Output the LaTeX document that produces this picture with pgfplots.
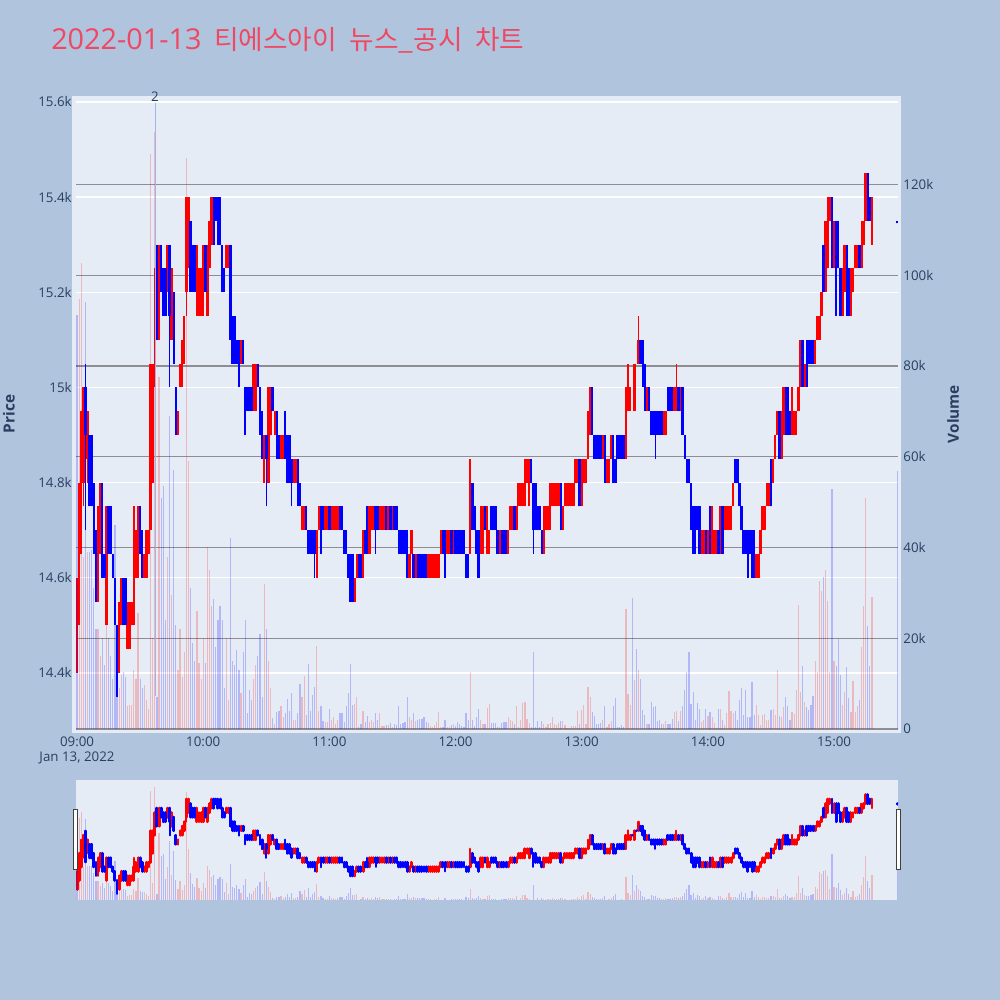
\documentclass[border=0pt]{standalone}
\usepackage{pgfplots}
\usepackage{pgfplotstable}
\usepackage{fontspec}
\pgfplotsset{compat=1.18}
\setmainfont{Open Sans}
\newfontfamily\kr{Noto Sans CJK KR}
\definecolor{pagebg}{RGB}{176,196,222}
\definecolor{panel}{RGB}{229,236,246}
\definecolor{ink}{RGB}{42,63,95}
\definecolor{ttl}{RGB}{239,72,98}
\definecolor{gridg}{RGB}{142,142,146}
\pgfplotstableread{
t o h l c v
0 14400 14600 14400 14600 0
1 14500 14800 14500 14800 94800
2 14650 14950 14650 14900 102800
3 14800 15000 14750 15000 38000
4 15000 15050 14700 14900 94000
5 14850 14950 14800 14950 39000
6 14900 14900 14750 14750 39000
7 14900 14900 14750 14750 39500
8 14800 14800 14650 14650 31000
9 14700 14700 14550 14600 22000
10 14600 14750 14550 14750 22000
11 14650 14800 14650 14800 16000
12 14800 14800 14600 14600 20000
13 14650 14650 14600 14600 14000
14 14500 14750 14500 14750 28000
15 14750 14750 14650 14650 20000
16 14750 14750 14650 14650 16000
17 14650 14650 14600 14600 11000
18 14600 14600 14500 14500 45000
19 14500 14500 14350 14400 15000
20 14400 14550 14400 14550 9000
21 14500 14600 14500 14600 12000
22 14600 14600 14500 14500 12600
23 14600 14600 14500 14500 11500
24 14450 14550 14450 14550 5000
25 14450 14550 14450 14550 5300
26 14500 14550 14500 14550 5300
27 14500 14750 14500 14650 13000
28 14600 14700 14600 14700 11000
29 14600 14750 14600 14750 25600
30 14750 14750 14650 14650 11000
31 14700 14700 14600 14600 9000
32 14600 14650 14600 14650 9700
33 14600 14700 14600 14700 6400
34 14650 14700 14650 14700 4500
35 14700 15050 14700 15050 126700
36 14800 15050 14800 15050 20000
37 15000 15250 15000 15250 131600
38 15300 15300 15100 15100 7000
39 15100 15300 15100 15300 77600
40 15300 15300 15200 15200 51000
41 15250 15250 15150 15150 53600
42 15250 15250 15150 15150 24000
43 15200 15300 15200 15300 38000
44 15300 15300 15000 15150 69000
45 15100 15250 15100 15250 29500
46 15200 15200 15050 15050 57000
47 15000 15000 14900 14900 23000
48 14900 14950 14900 14950 13000
49 15000 15050 15000 15050 22000
50 15000 15100 15000 15100 11500
51 15050 15150 15050 15150 17000
52 15200 15400 15150 15400 125800
53 15300 15400 15250 15400 59000
54 15350 15350 15200 15200 31000
55 15300 15300 15200 15200 19000
56 15300 15300 15200 15200 15000
57 15150 15300 15150 15300 26000
58 15150 15250 15150 15250 14500
59 15150 15250 15150 15250 11000
60 15150 15300 15150 15300 20000
61 15300 15300 15200 15200 14500
62 15150 15300 15150 15300 40000
63 15250 15350 15250 15350 35000
64 15300 15400 15300 15400 27000
65 15400 15400 15300 15300 28600
66 15400 15400 15350 15350 18000
67 15400 15400 15300 15300 24000
68 15400 15400 15300 15300 27000
69 15300 15300 15200 15200 24000
70 15250 15250 15200 15200 9000
71 15250 15300 15250 15300 20000
72 15250 15300 15250 15300 6500
73 15300 15300 15100 15100 42000
74 15150 15150 15050 15050 15000
75 15150 15150 15050 15050 14000
76 15100 15100 15050 15050 17400
77 15100 15100 15000 15000 13000
78 15050 15100 15050 15100 8000
79 15100 15100 15050 15050 17000
80 15000 15000 14900 14950 24000
81 15000 15000 14950 14950 3500
82 15000 15000 14950 14950 8600
83 15000 15000 14950 14950 6500
84 14950 15050 14950 15050 11000
85 14950 15050 14950 15050 14000
86 15050 15050 15000 15000 16000
87 15000 15000 14900 14900 21000
88 14950 14950 14850 14850 7000
89 14800 14900 14800 14900 32000
90 14900 14900 14750 14850 22000
91 14800 15000 14800 15000 15000
92 14900 15000 14900 15000 9000
93 15000 15000 14950 14950 2500
94 14900 14950 14900 14950 1200
95 14950 14950 14850 14850 3800
96 14900 14900 14850 14850 4000
97 14850 14900 14850 14900 5000
98 14850 14900 14850 14900 2700
99 14900 14950 14850 14850 3500
100 14900 14900 14800 14800 6600
101 14900 14900 14800 14800 4000
102 14850 14850 14750 14800 8000
103 14800 14850 14800 14850 2000
104 14800 14850 14800 14850 2000
105 14850 14850 14750 14750 3500
106 14800 14800 14750 14750 10000
107 14700 14750 14700 14750 7000
108 14700 14750 14700 14750 11700
109 14750 14750 14700 14700 3000
110 14700 14700 14650 14650 14300
111 14700 14700 14650 14650 4000
112 14700 14700 14650 14650 7500
113 14700 14700 14600 14650 9300
114 14600 14700 14600 14700 18400
115 14700 14750 14700 14750 4000
116 14750 14750 14650 14650 5000
117 14750 14750 14700 14700 1800
118 14700 14750 14700 14750 1600
119 14700 14750 14700 14750 1600
120 14750 14750 14700 14700 4300
121 14700 14750 14700 14750 2000
122 14700 14750 14700 14750 2700
123 14700 14750 14700 14750 1000
124 14700 14750 14700 14750 2000
125 14750 14750 14700 14700 3600
126 14750 14750 14700 14700 3600
127 14700 14700 14650 14650 1600
128 14700 14700 14650 14650 5000
129 14650 14650 14600 14600 8000
130 14650 14650 14550 14550 14300
131 14650 14650 14550 14550 5300
132 14550 14600 14550 14600 5500
133 14600 14650 14600 14650 7000
134 14650 14650 14600 14600 500
135 14650 14650 14600 14600 1000
136 14600 14700 14600 14700 4000
137 14700 14700 14650 14650 1600
138 14700 14750 14650 14650 2900
139 14650 14750 14650 14750 1600
140 14700 14750 14700 14750 2000
141 14700 14750 14700 14750 1600
142 14750 14750 14650 14700 3500
143 14750 14750 14700 14700 2000
144 14700 14750 14700 14750 3600
145 14700 14750 14700 14750 700
146 14700 14750 14700 14750 700
147 14750 14750 14700 14700 900
148 14700 14750 14700 14750 900
149 14750 14750 14700 14700 1400
150 14700 14750 14700 14750 400
151 14750 14750 14700 14700 1200
152 14750 14750 14700 14700 900
153 14700 14700 14650 14650 5000
154 14700 14700 14650 14650 1000
155 14700 14700 14650 14650 1400
156 14700 14700 14650 14650 1600
157 14700 14700 14600 14600 7000
158 14600 14650 14600 14650 2700
159 14650 14700 14650 14700 2000
160 14650 14650 14600 14600 3600
161 14600 14650 14600 14650 1800
162 14650 14650 14600 14600 2000
163 14650 14650 14600 14600 2100
164 14650 14650 14600 14600 2100
165 14650 14650 14600 14600 2700
166 14650 14650 14600 14600 1600
167 14600 14650 14600 14650 1400
168 14600 14650 14600 14650 700
169 14600 14650 14600 14650 400
170 14600 14650 14600 14650 900
171 14600 14650 14600 14650 1600
172 14600 14650 14600 14650 3800
173 14650 14700 14650 14700 500
174 14700 14700 14650 14650 400
175 14700 14700 14600 14650 2000
176 14650 14700 14650 14700 400
177 14650 14700 14650 14700 500
178 14700 14700 14650 14650 900
179 14650 14700 14650 14700 1200
180 14700 14700 14650 14650 700
181 14700 14700 14650 14650 1600
182 14700 14700 14650 14650 1100
183 14700 14700 14650 14650 700
184 14700 14700 14650 14650 400
185 14650 14650 14600 14600 3500
186 14650 14650 14600 14600 2000
187 14650 14850 14650 14750 12600
188 14800 14800 14700 14700 2000
189 14750 14750 14700 14700 700
190 14700 14700 14650 14650 2700
191 14700 14700 14600 14600 4300
192 14650 14750 14650 14750 2000
193 14650 14750 14650 14750 1100
194 14750 14750 14700 14700 1200
195 14650 14750 14650 14750 4600
196 14650 14700 14650 14700 5400
197 14750 14750 14700 14700 1400
198 14750 14750 14700 14700 1400
199 14750 14750 14700 14700 1400
200 14700 14700 14650 14650 500
201 14650 14700 14650 14700 500
202 14700 14700 14650 14650 1400
203 14700 14700 14650 14650 1600
204 14700 14700 14650 14650 1600
205 14650 14700 14650 14700 2600
206 14700 14750 14700 14750 2000
207 14700 14750 14700 14750 1800
208 14750 14750 14700 14700 1000
209 14700 14750 14700 14750 5000
210 14750 14800 14750 14800 500
211 14750 14800 14750 14800 2000
212 14750 14800 14750 14800 5800
213 14750 14850 14750 14850 6000
214 14800 14850 14800 14850 2300
215 14750 14850 14750 14850 1400
216 14850 14850 14800 14800 500
217 14800 14800 14650 14700 17000
218 14800 14800 14700 14700 500
219 14750 14750 14700 14700 1800
220 14750 14750 14700 14700 400
221 14700 14700 14650 14650 1800
222 14650 14750 14650 14750 1100
223 14700 14750 14700 14750 400
224 14700 14750 14700 14750 1000
225 14700 14800 14700 14800 1400
226 14750 14800 14750 14800 2600
227 14750 14800 14750 14800 1200
228 14750 14800 14750 14800 900
229 14750 14800 14750 14800 1400
230 14800 14800 14700 14700 1800
231 14700 14750 14700 14750 1800
232 14750 14800 14750 14800 900
233 14750 14800 14750 14800 200
234 14750 14800 14750 14800 200
235 14750 14800 14750 14800 700
236 14750 14800 14750 14800 700
237 14800 14850 14800 14850 700
238 14800 14850 14800 14850 4000
239 14850 14850 14750 14750 1200
240 14750 14850 14750 14850 4200
241 14800 14850 14800 14850 5300
242 14800 14850 14800 14850 1100
243 14850 14950 14850 14900 9200
244 14900 15000 14900 15000 7000
245 15000 15000 14900 14900 3800
246 14900 14900 14850 14850 2900
247 14900 14900 14850 14850 1200
248 14900 14900 14850 14850 1200
249 14900 14900 14850 14850 1400
250 14850 14900 14850 14900 2000
251 14900 14900 14800 14800 5000
252 14800 14850 14800 14850 400
253 14800 14850 14800 14850 1100
254 14850 14900 14850 14900 1800
255 14900 14900 14800 14800 5000
256 14850 14850 14800 14800 6800
257 14900 14900 14850 14850 400
258 14900 14900 14850 14850 400
259 14900 14900 14850 14850 900
260 14900 14900 14850 14850 500
261 14850 15000 14850 15000 26400
262 14950 15050 14950 15050 7700
263 14950 15000 14950 15000 5300
264 15000 15000 15000 15000 28800
265 14950 15050 14950 15050 10800
266 15050 15050 15050 15050 17600
267 15050 15150 15050 15100 12900
268 15100 15100 15050 15050 11000
269 15100 15100 15000 15000 4200
270 15050 15050 14950 14950 3000
271 14950 15000 14950 15000 1200
272 15000 15000 14950 14950 1100
273 14950 14950 14900 14900 6000
274 14950 14950 14900 14900 4800
275 14950 14950 14850 14900 5000
276 14950 14950 14900 14900 1800
277 14950 14950 14900 14900 2000
278 14950 14950 14900 14900 1200
279 14900 14950 14900 14950 1200
280 14900 14950 14900 14950 1800
281 15000 15000 14950 14950 1200
282 15000 15000 14950 14950 1100
283 15000 15000 14950 14950 2300
284 14950 15000 14950 15000 3800
285 14950 15050 14950 15000 4000
286 15000 15000 14950 14950 1800
287 14950 15000 14950 15000 4000
288 15000 15000 14900 14900 5000
289 14900 14900 14850 14850 8500
290 14850 14850 14800 14800 12600
291 14850 14850 14800 14800 17000
292 14800 14800 14700 14700 5500
293 14750 14750 14650 14650 8200
294 14750 14750 14650 14650 2000
295 14750 14750 14700 14700 5700
296 14750 14750 14650 14650 4500
297 14650 14700 14650 14700 1600
298 14650 14700 14650 14700 2000
299 14700 14700 14650 14650 4300
300 14650 14700 14650 14700 2900
301 14750 14750 14650 14650 3800
302 14650 14750 14650 14750 2700
303 14650 14700 14650 14700 1400
304 14650 14700 14650 14700 200
305 14700 14700 14650 14650 4500
306 14650 14750 14650 14750 4500
307 14750 14750 14650 14650 2000
308 14700 14750 14700 14750 900
309 14700 14750 14700 14750 3600
310 14700 14750 14700 14750 8400
311 14700 14750 14700 14750 4000
312 14750 14800 14750 14800 3600
313 14850 14850 14800 14800 4000
314 14850 14850 14800 14800 2000
315 14800 14800 14750 14750 6500
316 14750 14750 14700 14700 9100
317 14700 14700 14650 14650 3000
318 14700 14700 14650 14650 8600
319 14700 14700 14600 14600 2600
320 14700 14700 14650 14650 2700
321 14700 14700 14600 14600 10400
322 14700 14700 14600 14650 3000
323 14600 14650 14600 14650 5300
324 14600 14650 14600 14650 3000
325 14650 14700 14650 14700 900
326 14700 14750 14700 14750 3000
327 14700 14750 14700 14750 3300
328 14750 14800 14750 14800 2000
329 14750 14800 14750 14800 2000
330 14850 14850 14750 14750 4200
331 14800 14850 14800 14850 4300
332 14850 14900 14850 14900 3000
333 14900 14950 14900 14950 13000
334 14950 14950 14850 14850 2900
335 14850 14950 14850 14950 2700
336 14900 15000 14900 15000 4800
337 15000 15000 14900 14900 7000
338 15000 15000 14900 14900 5000
339 14950 14950 14900 14900 2000
340 14900 15000 14900 15000 3800
341 14900 14950 14900 14950 3300
342 14900 14950 14900 14950 8600
343 14950 15000 14950 15000 27400
344 15000 15100 15000 15100 8200
345 15100 15100 15000 15000 13900
346 15000 15050 15000 15050 6000
347 15100 15100 15000 15000 4800
348 15100 15100 15050 15050 4200
349 15100 15100 15050 15050 5300
350 15100 15100 15050 15050 7300
351 15050 15100 15050 15100 14900
352 15100 15150 15100 15150 12600
353 15100 15150 15100 15150 32700
354 15150 15200 15150 15200 30500
355 15300 15300 15200 15200 33600
356 15200 15350 15200 15350 35000
357 15250 15400 15250 15400 28300
358 15350 15400 15350 15400 12600
359 15400 15400 15250 15250 53000
360 15250 15350 15250 15350 15000
361 15350 15350 15150 15150 13900
362 15350 15350 15250 15250 19900
363 15250 15250 15150 15150 12000
364 15150 15250 15150 15250 5300
365 15200 15300 15200 15300 8200
366 15300 15300 15150 15150 13600
367 15250 15250 15150 15150 6800
368 15150 15250 15150 15250 3800
369 15200 15250 15200 15250 10600
370 15250 15300 15250 15300 3800
371 15250 15300 15250 15300 5000
372 15300 15300 15250 15250 6500
373 15250 15350 15250 15300 18000
374 15300 15350 15300 15350 27000
375 15350 15450 15350 15450 50900
376 15450 15450 15350 15350 22600
377 15400 15400 15350 15350 13800
378 15350 15400 15300 15400 29000
390 15350 15350 15345 15345 56800
}\data
\newcommand\upx{\thisrow{c}>\thisrow{o} ? \thisrow{t} : nan}
\newcommand\dnx{\thisrow{c}>\thisrow{o} ? nan : \thisrow{t}}
\pgfplotsset{
  cd/.style={mark=none,draw=none,forget plot,error bars/.cd,y dir=plus,y explicit,error mark=none},
  frame/.style={scale only axis,xmin=-0.5,xmax=390.4,xtick=\empty,ytick=\empty,axis lines=none},
  pr/.style={ymin=14282,ymax=15612.6},
  vo/.style={ymin=0,ymax=139500},
  mainbox/.style={at={(57pt,203.25pt)},anchor=south west,width=616.5pt,height=474.75pt},
  minibox/.style={at={(57pt,75pt)},anchor=south west,width=616.5pt,height=90pt},
}
\newcommand\candles[3]{%
  \addplot[cd,error bar style={line width=#1,red,line cap=#3}] table[x expr=\upx,y=l,y error plus expr=\thisrow{h}-\thisrow{l},y error minus expr=0]{\data};
  \addplot[cd,error bar style={line width=#2,red,line cap=#3}] table[x expr=\upx,y=o,y error plus expr=\thisrow{c}-\thisrow{o},y error minus expr=0]{\data};
  \addplot[cd,error bar style={line width=#1,blue,line cap=#3}] table[x expr=\dnx,y=l,y error plus expr=\thisrow{h}-\thisrow{l},y error minus expr=0]{\data};
  \addplot[cd,error bar style={line width=#2,blue,line cap=#3}] table[x expr=\dnx,y=c,y error plus expr=\thisrow{o}-\thisrow{c},y error minus expr=0]{\data};
}
\newcommand\volbars{%
  \addplot[ycomb,mark=none,red,line width=0.9pt,opacity=.22] table[x expr=\upx,y=v]{\data};
  \addplot[ycomb,mark=none,blue,line width=0.9pt,opacity=.22] table[x expr=\dnx,y=v]{\data};
  \addplot[ycomb,mark=none,blue,line width=0.9pt,opacity=.22] coordinates {(0,91200)};
}
\begin{document}
\begin{tikzpicture}[x=0.75pt,y=0.75pt]
\fill[pagebg] (0,0) rectangle (1000,1000);
\fill[panel] (72,1000-96) rectangle (901,1000-733);
\fill[panel] (76,1000-780) rectangle (898,1000-900);
\draw[white,line width=1.5pt] (76,271) -- (898,271);
\node[anchor=base west,inner sep=0,text=ttl,font=\fontsize{21.6}{26}\selectfont] at (51,1000-50) {\spaceskip=9.5pt 2022-01-13 {\kr\fontsize{20}{26}\selectfont\spaceskip=9.5pt 티에스아이 뉴스\_공시 차트}};
% volume grid and right labels
\begin{axis}[scale only axis,mainbox,
  xmin=-0.5,xmax=390.4,vo,xtick=\empty,axis y line*=right,axis x line=none,
  axis line style={draw=none},
  ytick={0,20000,40000,60000,80000,100000,120000},
  yticklabels={0,20k,40k,60k,80k,100k,120k},
  ymajorgrids,grid style={gridg,line width=1pt},major tick length=0pt,
  y tick label style={font=\fontsize{10}{12}\selectfont,text=ink,xshift=0.5pt},
  scaled y ticks=false]
\end{axis}
% price
\begin{axis}[scale only axis,mainbox,
  xmin=-0.5,xmax=390.4,pr,axis y line*=left,axis x line*=bottom,axis line style={draw=none},
  xtick={0,60,120,180,240,300,360},
  xticklabels={09:00,10:00,11:00,12:00,13:00,14:00,15:00},
  ytick={14400,14600,14800,15000,15200,15400,15600},
  yticklabels={14.4k,14.6k,14.8k,15k,15.2k,15.4k,15.6k},
  ymajorgrids,grid style={white,line width=1pt},major tick length=0pt,
  y tick label style={font=\fontsize{10}{12}\selectfont,text=ink,xshift=0.3pt},
  x tick label style={font=\fontsize{10}{12}\selectfont,text=ink,yshift=-2.5pt},
  scaled y ticks=false]
\candles{1.2pt}{1.8pt}{butt}
\end{axis}
% volume bars
\begin{axis}[frame,vo,mainbox]
\volbars
\end{axis}
% annotation
\begin{axis}[frame,pr,mainbox]
\addplot[mark=none,color={rgb,255:red,160;green,180;blue,232},line width=0.6pt] coordinates {(37.2,14352) (37.2,15598)};
\end{axis}
\node[text=ink,font=\fontsize{10}{12}\selectfont,inner sep=0] at (155,1000-97) {2};
\node[text=ink,font=\fontsize{10}{12}\selectfont,inner sep=0] at (77,1000-758) {Jan 13, 2022};
\node[text=ink,font=\bfseries\fontsize{11.5}{13}\selectfont,rotate=90,inner sep=0] at (9,1000-414) {Price};
\node[text=ink,font=\bfseries\fontsize{11.5}{13}\selectfont,rotate=90,inner sep=0] at (953,1000-414) {Volume};
% range slider
\begin{axis}[frame,pr,minibox]
\candles{1.6pt}{2.2pt}{round}
\end{axis}
\begin{axis}[frame,vo,minibox]
\volbars
\end{axis}
\draw[fill=white,draw=black!75,line width=0.75pt] (73.5,1000-810) rectangle (77,1000-870);
\draw[fill=white,draw=black!75,line width=0.75pt] (896.5,1000-810) rectangle (900.5,1000-870);
\end{tikzpicture}
\end{document}
